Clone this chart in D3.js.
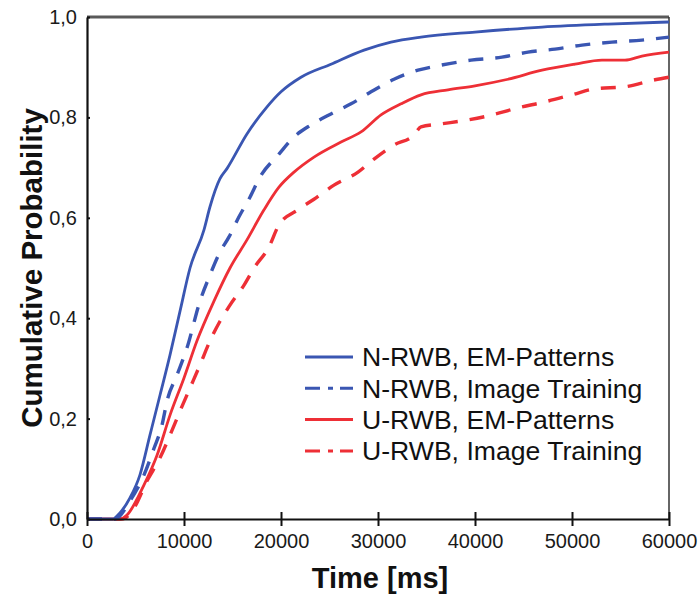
<!DOCTYPE html>
<html>
<head>
<meta charset="utf-8">
<script src="https://cdn.jsdelivr.net/npm/d3@7/dist/d3.min.js"></script>
<style>
  html, body { margin: 0; padding: 0; background: #fff; }
  svg { display: block; font-family: "Liberation Sans", Arial, sans-serif; }
</style>
</head>
<body>
<svg id="chart" width="700" height="597"></svg>
<script>
// Cumulative distribution of completion time (ms) per condition
const seriesNames = [
  "N-RWB, EM-Patterns",
  "N-RWB, Image Training",
  "U-RWB, EM-Patterns",
  "U-RWB, Image Training"
];
const seriesColors = ["#3a56b2", "#3a56b2", "#ee2f36", "#ee2f36"];
const seriesDashed = [false, true, false, true];

const nEmTime = [0, 2700, 3090, 4430, 5460, 6490, 7530, 8560, 9590, 10620, 12060, 12680, 13710, 14430, 16490, 18560, 20000, 22060, 25150, 28560, 31340, 34430, 40000, 46910, 53710, 60000];
const nEmProb = [0, 0, 0.006, 0.042, 0.088, 0.167, 0.247, 0.327, 0.414, 0.500, 0.576, 0.622, 0.678, 0.698, 0.767, 0.821, 0.851, 0.880, 0.906, 0.934, 0.950, 0.960, 0.970, 0.980, 0.986, 0.990];

const nImgTime = [0, 2900, 4430, 5880, 6910, 7730, 8250, 9280, 10310, 11650, 12680, 13610, 14640, 15670, 16800, 17830, 19790, 21340, 23090, 25150, 27220, 29280, 31650, 34120, 36490, 39590, 42780, 45460, 48250, 51030, 54120, 57210, 60000];
const nImgProb = [0, 0, 0.036, 0.088, 0.141, 0.187, 0.235, 0.287, 0.341, 0.434, 0.486, 0.528, 0.562, 0.602, 0.641, 0.681, 0.727, 0.761, 0.785, 0.807, 0.827, 0.851, 0.876, 0.894, 0.904, 0.914, 0.920, 0.930, 0.936, 0.944, 0.950, 0.954, 0.960];

const uEmTime = [0, 3400, 4120, 5880, 7220, 8560, 10000, 11340, 13090, 14740, 16490, 18250, 19790, 21340, 23400, 26190, 28250, 30310, 32370, 34430, 37220, 40000, 43400, 46910, 50310, 53090, 55460, 57210, 60000];
const uEmProb = [0, 0, 0.008, 0.068, 0.127, 0.207, 0.281, 0.355, 0.434, 0.500, 0.556, 0.616, 0.661, 0.691, 0.721, 0.751, 0.771, 0.805, 0.827, 0.845, 0.855, 0.863, 0.876, 0.894, 0.906, 0.914, 0.914, 0.922, 0.930];

const uImgTime = [0, 3600, 4850, 6190, 7530, 8560, 9590, 10620, 11650, 12680, 13710, 14740, 16190, 17220, 18760, 19790, 21750, 23400, 25460, 27940, 29590, 31650, 33710, 34430, 36490, 39280, 41340, 44430, 47220, 50000, 52370, 55460, 58560, 60000];
const uImgProb = [0, 0, 0.022, 0.076, 0.122, 0.167, 0.215, 0.261, 0.307, 0.355, 0.394, 0.426, 0.466, 0.500, 0.542, 0.586, 0.616, 0.637, 0.665, 0.691, 0.717, 0.745, 0.765, 0.781, 0.787, 0.795, 0.803, 0.819, 0.831, 0.845, 0.857, 0.861, 0.875, 0.880];

const xTicks = [0, 10000, 20000, 30000, 40000, 50000, 60000];
const yTicks = [0, 0.2, 0.4, 0.6, 0.8, 1.0];
const xTitle = "Time [ms]";
const yTitle = "Cumulative Probability";

const times = [nEmTime, nImgTime, uEmTime, uImgTime];
const probs = [nEmProb, nImgProb, uEmProb, uImgProb];

const margin = { left: 87, right: 31, top: 17, bottom: 78 };
const W = 700, H = 597;
const iw = W - margin.left - margin.right;
const ih = H - margin.top - margin.bottom;

const svg = d3.select("#chart");
const g = svg.append("g").attr("transform", `translate(${margin.left},${margin.top})`);

const x = d3.scaleLinear().domain([0, 60000]).range([0, iw]);
const y = d3.scaleLinear().domain([0, 1]).range([ih, 0]);

const fmtY = v => d3.format(".1f")(v).replace(".", ",");

// frame: top and right edges
g.append("line").attr("x1", 0).attr("x2", iw).attr("y1", 0).attr("y2", 0)
  .attr("stroke", "#5a5a5a").attr("stroke-width", 3);
g.append("line").attr("x1", iw).attr("x2", iw).attr("y1", 0).attr("y2", ih)
  .attr("stroke", "#333").attr("stroke-width", 1.5);

// curves
const line = d3.line().x(d => x(d[0])).y(d => y(d[1])).curve(d3.curveMonotoneX);
const order = [3, 2, 1, 0];
order.forEach(i => {
  const pts = times[i].map((t, k) => [t, probs[i][k]]);
  g.append("path")
    .attr("d", line(pts))
    .attr("fill", "none")
    .attr("stroke", seriesColors[i])
    .attr("stroke-width", seriesDashed[i] ? 3.4 : 2.8)
    .attr("stroke-linejoin", "round")
    .attr("stroke-dasharray", seriesDashed[i] ? "15,12" : null);
});

// axes
const xAxis = g.append("g").attr("transform", `translate(0,${ih})`)
  .call(d3.axisBottom(x).tickValues(xTicks).tickFormat(d3.format("d")).tickSizeInner(7).tickSizeOuter(0).tickPadding(8));
xAxis.selectAll(".tick line").attr("y1", -7).attr("stroke", "#111").attr("stroke-width", 2);
xAxis.select(".domain").attr("stroke", "#111").attr("stroke-width", 2.2);
xAxis.selectAll("text").attr("font-size", 20).attr("fill", "#1a1a1a")
  .attr("font-family", "'Liberation Sans', Arial, sans-serif");

const yAxis = g.append("g")
  .call(d3.axisLeft(y).tickValues(yTicks).tickFormat(fmtY).tickSizeInner(7).tickSizeOuter(0).tickPadding(3));
yAxis.selectAll(".tick line").attr("x2", 3).attr("stroke", "#111").attr("stroke-width", 2);
yAxis.select(".domain").attr("stroke", "#111").attr("stroke-width", 2.2);
yAxis.selectAll("text").attr("font-size", 20).attr("fill", "#1a1a1a")
  .attr("font-family", "'Liberation Sans', Arial, sans-serif");

// axis titles
svg.append("text")
  .attr("x", margin.left + x(30000) + 2).attr("y", 588)
  .attr("text-anchor", "middle").attr("font-size", 29).attr("font-weight", "bold")
  .attr("fill", "#111").text(xTitle);
svg.append("text")
  .attr("transform", `translate(42,${margin.top + y(0.5)}) rotate(-90)`)
  .attr("text-anchor", "middle").attr("font-size", 29.5).attr("font-weight", "bold")
  .attr("fill", "#111").text(yTitle);

// legend
const legend = svg.append("g").attr("transform", "translate(305,357)");
seriesNames.forEach((name, i) => {
  const row = legend.append("g").attr("transform", `translate(0,${i * 31.3})`);
  row.append("line").attr("x1", 0).attr("x2", 48).attr("y1", 0).attr("y2", 0)
    .attr("stroke", seriesColors[i]).attr("stroke-width", 3)
    .attr("stroke-dasharray", seriesDashed[i] ? "15,8,5,7,13" : null);
  row.append("text").attr("x", 57).attr("y", 0).attr("dy", "0.35em")
    .attr("font-size", 26.6).attr("fill", "#111").text(name);
});
</script>
</body>
</html>
